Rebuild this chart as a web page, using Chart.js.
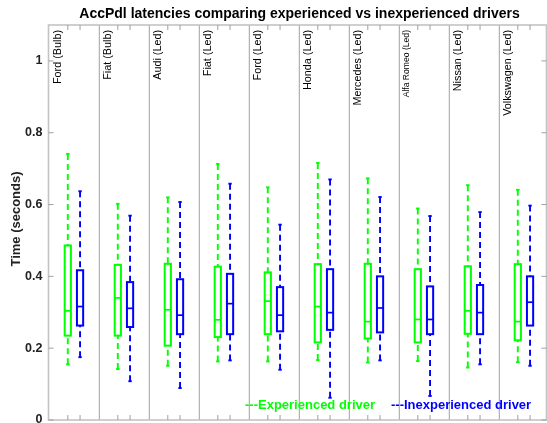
<!DOCTYPE html>
<html><head><meta charset="utf-8">
<script src="https://cdn.jsdelivr.net/npm/chart.js@4.4.1/dist/chart.umd.min.js"></script>
<style>html,body{margin:0;padding:0;background:#fff;overflow:hidden}
#wrap{position:relative;width:547px;height:423px}</style>
</head><body><div id="wrap"><canvas id="c" width="547" height="423"></canvas></div>
<script>
const categories = ["Ford (Bulb)","Fiat (Bulb)","Audi (Led)","Fiat (Led)","Ford (Led)","Honda (Led)","Mercedes (Led)","Alfa Romeo (Led)","Nissan (Led)","Volkswagen (Led)"];
const seriesNames = ["Experienced driver","Inexperienced driver"];
// Experienced drivers (seconds)
const expWhiskerLow  = [0.155,0.142,0.151,0.163,0.163,0.167,0.160,0.164,0.146,0.161];
const expQ1          = [0.235,0.235,0.207,0.231,0.239,0.216,0.227,0.216,0.240,0.222];
const expMedian      = [0.304,0.340,0.307,0.279,0.331,0.316,0.274,0.280,0.304,0.274];
const expQ3          = [0.486,0.432,0.435,0.427,0.411,0.434,0.435,0.420,0.428,0.434];
const expWhiskerHigh = [0.741,0.602,0.620,0.713,0.648,0.716,0.673,0.589,0.654,0.641];
// Inexperienced drivers (seconds)
const inexpWhiskerLow  = [0.175,0.108,0.089,0.166,0.140,0.062,0.166,0.067,0.155,0.151];
const inexpQ1          = [0.263,0.259,0.239,0.239,0.247,0.251,0.244,0.239,0.239,0.263];
const inexpMedian      = [0.316,0.311,0.292,0.324,0.292,0.299,0.312,0.280,0.299,0.328];
const inexpQ3          = [0.417,0.384,0.392,0.407,0.370,0.420,0.400,0.372,0.376,0.400];
const inexpWhiskerHigh = [0.637,0.569,0.607,0.658,0.544,0.670,0.621,0.568,0.579,0.597];
const yTicks = [0,0.2,0.4,0.6,0.8,1];

const FONT = "'Liberation Sans', Arial, Helvetica, sans-serif";
const GREEN = '#00ff00', BLUE = '#0000ff';
const series = [
  {name: seriesNames[0], color: GREEN, offset: 0.37, lo: expWhiskerLow, q1: expQ1, med: expMedian, q3: expQ3, hi: expWhiskerHigh},
  {name: seriesNames[1], color: BLUE, offset: 0.615, lo: inexpWhiskerLow, q1: inexpQ1, med: inexpMedian, q3: inexpQ3, hi: inexpWhiskerHigh}
];
const smallLabelSize = {"Alfa Romeo (Led)": 8.6};

function line(ctx, x1, y1, x2, y2){ ctx.beginPath(); ctx.moveTo(x1,y1); ctx.lineTo(x2,y2); ctx.stroke(); }

const boxPlugin = {
  id: 'boxplot',
  afterDraw(chart){
    const ctx = chart.ctx, a = chart.chartArea, x = chart.scales.x, y = chart.scales.y;
    ctx.save();
    // group separators
    ctx.strokeStyle = '#a0a0a0'; ctx.lineWidth = 1;
    for (let k = 1; k < categories.length; k++){
      const px = x.getPixelForValue(k);
      line(ctx, px, a.top, px, a.bottom);
    }
    // axes box
    ctx.strokeStyle = '#c4c4c4'; ctx.lineWidth = 1.6;
    ctx.strokeRect(a.left, a.top, a.right - a.left, a.bottom - a.top);
    // y ticks (inward, both sides)
    ctx.strokeStyle = '#a0a0a0'; ctx.lineWidth = 1;
    yTicks.forEach(v => {
      const py = y.getPixelForValue(v);
      line(ctx, a.left, py, a.left + 5, py);
      line(ctx, a.right, py, a.right - 5, py);
    });
    // x ticks at box positions (top & bottom, inward)
    categories.forEach((c, k) => {
      series.forEach(s => {
        const px = x.getPixelForValue(k + s.offset);
        line(ctx, px, a.bottom, px, a.bottom - 5);
        line(ctx, px, a.top, px, a.top + 5);
      });
    });
    // boxes
    const halfW = 3.1, capW = 1.7;
    ctx.lineWidth = 2;
    categories.forEach((c, k) => {
      series.forEach(s => {
        const cx = x.getPixelForValue(k + s.offset);
        const pLo = y.getPixelForValue(s.lo[k]), pQ1 = y.getPixelForValue(s.q1[k]);
        const pMed = y.getPixelForValue(s.med[k]), pQ3 = y.getPixelForValue(s.q3[k]);
        const pHi = y.getPixelForValue(s.hi[k]);
        ctx.strokeStyle = s.color;
        // whiskers (dashed)
        ctx.lineWidth = 1.9;
        ctx.setLineDash([6, 4]);
        line(ctx, cx, pHi, cx, pQ3);
        line(ctx, cx, pLo, cx, pQ1);
        ctx.setLineDash([]);
        // caps
        line(ctx, cx - capW, pHi, cx + capW, pHi);
        line(ctx, cx - capW, pLo, cx + capW, pLo);
        // box
        ctx.lineWidth = 2;
        ctx.strokeRect(cx - halfW, pQ3, 2 * halfW, pQ1 - pQ3);
        // median
        ctx.lineWidth = 1.7;
        line(ctx, cx - halfW, pMed, cx + halfW, pMed);
      });
    });
    // category labels (rotated)
    ctx.fillStyle = '#000';
    categories.forEach((c, k) => {
      const size = smallLabelSize[c] || 10.8;
      const px = x.getPixelForValue(k) + (smallLabelSize[c] ? 7.5 : 9);
      ctx.save();
      ctx.translate(px, 30);
      ctx.rotate(-Math.PI / 2);
      ctx.font = size + 'px ' + FONT;
      ctx.textAlign = 'right'; ctx.textBaseline = 'middle';
      ctx.fillText(c, 0, 0);
      ctx.restore();
    });
    // title
    ctx.fillStyle = '#000';
    ctx.font = 'bold 14px ' + FONT;
    ctx.textAlign = 'center'; ctx.textBaseline = 'middle';
    ctx.fillText('AccPdl latencies comparing experienced vs inexperienced drivers', (a.left + a.right) / 2 + 2, 14);
    // y axis title
    ctx.save();
    ctx.translate(16, 219);
    ctx.rotate(-Math.PI / 2);
    ctx.font = 'bold 13px ' + FONT;
    ctx.textAlign = 'center'; ctx.textBaseline = 'middle';
    ctx.fillStyle = '#222';
    ctx.fillText('Time (seconds)', 0, 0);
    ctx.restore();
    // legend text
    ctx.font = 'bold 13px ' + FONT;
    ctx.textAlign = 'left'; ctx.textBaseline = 'middle';
    ctx.fillStyle = GREEN;
    ctx.fillText('---' + seriesNames[0], 245, 405);
    ctx.fillStyle = BLUE;
    ctx.fillText('---' + seriesNames[1], 391, 405);
    ctx.restore();
  }
};

new Chart(document.getElementById('c'), {
  type: 'scatter',
  data: { datasets: series.map(s => ({
    label: s.name,
    data: s.med.map((v, k) => ({x: k + s.offset, y: v})),
    pointRadius: 0, showLine: false, borderColor: s.color, backgroundColor: s.color
  })) },
  options: {
    responsive: false,
    animation: false,
    devicePixelRatio: 1,
    layout: { padding: { top: 25, bottom: 3, left: 0, right: 0.5 } },
    plugins: { legend: { display: false }, tooltip: { enabled: false }, title: { display: false } },
    scales: {
      x: { type: 'linear', min: -0.016, max: 9.944, display: false },
      y: {
        type: 'linear', min: 0, max: 1.1,
        afterBuildTicks: s => { s.ticks = yTicks.map(v => ({value: v})); },
        afterFit: s => { s.width = 48.5; s.paddingTop = 0; s.paddingBottom = 0; },
        grid: { display: false, drawTicks: false },
        border: { display: false },
        ticks: {
          padding: 6, color: '#222',
          font: { family: FONT, size: 12.5, weight: 'bold' },
          callback: v => String(Number(v.toFixed(1)))
        }
      }
    }
  },
  plugins: [boxPlugin]
});
</script>
</body></html>
